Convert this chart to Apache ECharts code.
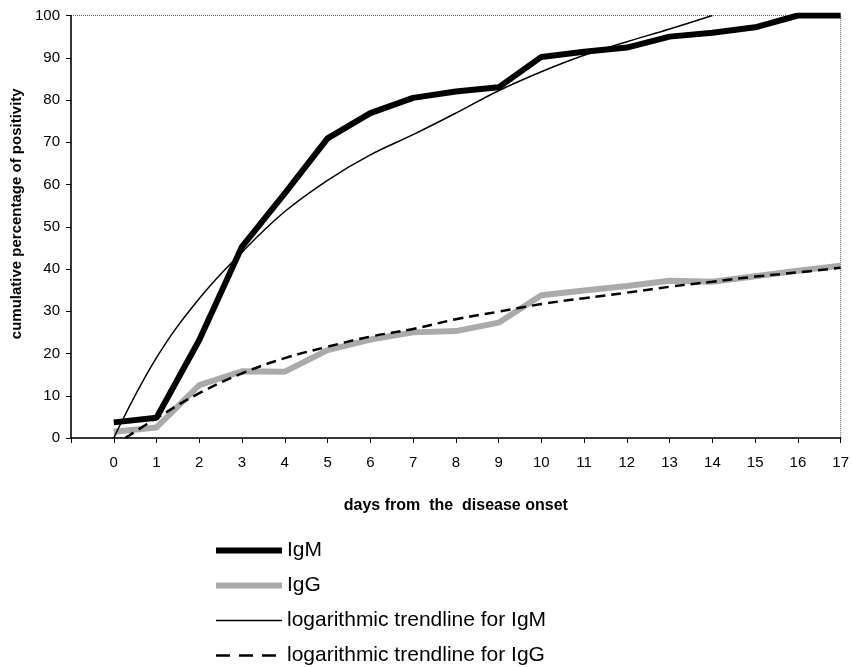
<!DOCTYPE html>
<html>
<head>
<meta charset="utf-8">
<script src="https://cdn.jsdelivr.net/npm/echarts@6/dist/echarts.min.js"></script>
<style>html,body{margin:0;padding:0;background:#fff}#c{width:852px;height:667px}</style>
</head>
<body>
<div id="c"></div>
<script>
var days = [0,1,2,3,4,5,6,7,8,9,10,11,12,13,14,15,16,17];
var igm = [3.7,4.8,23.2,45.3,57.9,70.9,76.9,80.5,82,83,90.2,91.4,92.4,95,95.9,97.2,100,100];
var igg = [1.5,2.5,12.5,15.8,15.7,20.8,23.3,25,25.3,27.3,33.8,34.9,36,37.2,37,38.3,39.6,40.8];
var trendDays = [0,1,2,3,4,5,6,7,8,9,10,11,12,13,14];
var trendIgm = [0,19,33,44,53.6,61,67,71.8,76.9,82.2,86.7,90.6,93.8,96.8,100];
var trendIggDays = [0.27,1,2,3,4,5,6,7,8,9,10,11,12,13,14,15,16,17];
var trendIgg = [0,4.7,10.6,15.3,18.9,21.6,24,25.8,28.1,29.9,31.7,33.1,34.4,35.8,37,38.2,39.2,40.3];
var seriesNames = ['IgM','IgG','logarithmic trendline for IgM','logarithmic trendline for IgG'];
var xTitle = 'days from  the  disease onset';
var yTitle = 'cumulative percentage of positivity';

function pairs(xs, ys){ return xs.map(function(x,i){return [x, ys[i]];}); }

var FONT = 'Liberation Sans, Arial, sans-serif';
var hideSym = {opacity:0, borderWidth:0};
var chart = echarts.init(document.getElementById('c'), null, {renderer:'canvas'});
chart.setOption({
  animation:false,
  backgroundColor:'#fff',
  grid:{left:71, right:10, top:15.5, bottom:229, show:true, borderColor:'#555', borderWidth:1, borderType:'dotted'},
  xAxis:{
    type:'value', min:-1, max:17, interval:1,
    name:xTitle, nameLocation:'middle', nameGap:60,
    nameTextStyle:{fontFamily:FONT, fontWeight:'bold', fontSize:16, color:'#000'},
    axisLine:{onZero:false, lineStyle:{color:'#000', width:1.5}},
    axisTick:{length:5, lineStyle:{color:'#000', width:1}},
    axisLabel:{margin:17, fontFamily:FONT, fontSize:15, color:'#000',
      formatter:function(v){return v < 0 ? '' : String(v);}},
    splitLine:{show:false}
  },
  yAxis:{
    type:'value', min:0, max:100, interval:10,
    name:yTitle, nameLocation:'middle', nameGap:47, nameRotate:90,
    nameTextStyle:{fontFamily:FONT, fontWeight:'bold', fontSize:15, color:'#000', padding:[0,0,0,26]},
    axisLine:{show:true, onZero:false, lineStyle:{color:'#000', width:1.5}},
    axisTick:{show:true, length:5, lineStyle:{color:'#000', width:1}},
    axisLabel:{margin:11, fontFamily:FONT, fontSize:15, color:'#000'},
    splitLine:{show:false}
  },
  legend:{
    orient:'vertical', left:213, top:540, height:150, padding:0, itemWidth:66, itemHeight:14, itemGap:14,
    textStyle:{fontFamily:FONT, fontSize:21, color:'#000'},
    data:[
      {name:seriesNames[0], itemStyle:hideSym, lineStyle:{color:'#000', width:6}},
      {name:seriesNames[1], itemStyle:hideSym, lineStyle:{color:'#aaa', width:6}},
      {name:seriesNames[2], itemStyle:hideSym, lineStyle:{color:'#000', width:1.5}},
      {name:seriesNames[3], itemStyle:hideSym, lineStyle:{color:'#000', width:2.5, type:[14,9]}}
    ]
  },
  series:[
    {name:seriesNames[1], type:'line', data:pairs(days, igg), symbol:'none', z:2,
     lineStyle:{color:'#aaa', width:6}, itemStyle:{color:'#aaa'}},
    {name:seriesNames[3], type:'line', data:pairs(trendIggDays, trendIgg), symbol:'none', smooth:0.4, z:3,
     lineStyle:{color:'#000', width:2.5, type:[10,6]}, itemStyle:{color:'#000'}},
    {name:seriesNames[0], type:'line', data:pairs(days, igm), symbol:'none', z:4,
     lineStyle:{color:'#000', width:6}, itemStyle:{color:'#000'}},
    {name:seriesNames[2], type:'line', data:pairs(trendDays, trendIgm), symbol:'none', smooth:0.4, z:5,
     lineStyle:{color:'#000', width:1.5}, itemStyle:{color:'#000'}}
  ]
});
</script>
</body>
</html>
